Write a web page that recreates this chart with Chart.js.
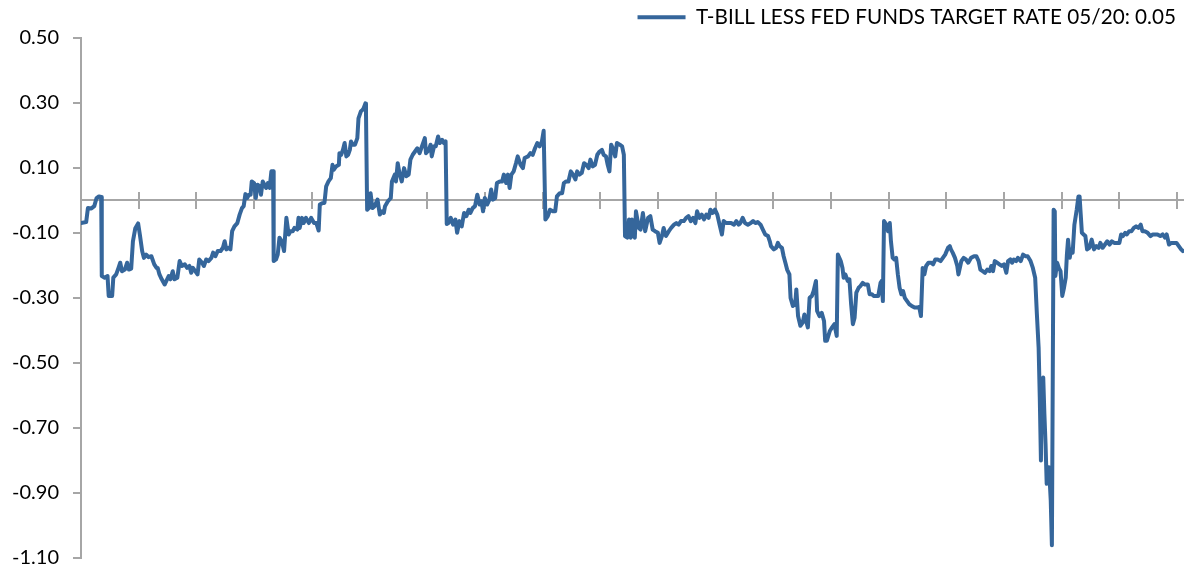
<!DOCTYPE html>
<html>
<head>
<meta charset="utf-8">
<script src="https://cdn.jsdelivr.net/npm/chart.js@4"></script>
<style>
  html, body { margin: 0; padding: 0; background: #ffffff; }
  #wrap { width: 1184px; height: 572px; position: relative; }
</style>
</head>
<body>
<div id="wrap"><canvas id="c"></canvas></div>
<script>
const seriesLabel = 'T-BILL LESS FED FUNDS TARGET RATE 05/20: 0.05';

const dates = [
2001.00,2001.09,2001.12,2001.18,2001.23,2001.27,2001.31,2001.35,2001.36,2001.41,2001.46,2001.48,2001.54,2001.56,2001.61,2001.65,2001.68,2001.71,2001.76,2001.80,2001.83,2001.87,2001.90,2001.94,2001.99,
2002.02,2002.06,2002.09,2002.13,2002.17,2002.22,2002.27,2002.31,2002.33,2002.36,2002.40,2002.45,2002.48,2002.52,2002.55,2002.59,2002.62,2002.67,2002.71,2002.75,2002.80,2002.84,2002.88,2002.91,2002.94,2002.98,
2003.02,2003.05,2003.10,2003.13,2003.17,2003.21,2003.26,2003.29,2003.33,2003.37,2003.42,2003.46,2003.49,2003.52,2003.56,2003.59,2003.62,2003.66,2003.71,2003.75,2003.79,2003.82,2003.85,2003.88,2003.91,2003.94,2003.96,
2004.00,2004.03,2004.06,2004.10,2004.12,2004.15,2004.18,2004.21,2004.24,2004.27,2004.30,2004.33,2004.34,2004.38,2004.41,2004.44,2004.48,2004.52,2004.56,2004.60,2004.63,2004.67,2004.70,2004.75,2004.77,2004.79,2004.83,2004.86,2004.90,2004.95,2004.99,
2005.04,2005.08,2005.12,2005.14,2005.19,2005.22,2005.25,2005.29,2005.33,2005.36,2005.38,2005.42,2005.47,2005.48,2005.51,2005.54,2005.57,2005.60,2005.63,2005.66,2005.68,2005.71,2005.75,2005.79,2005.81,2005.85,2005.88,2005.90,2005.93,2005.94,2005.96,2005.99,
2006.02,2006.05,2006.09,2006.14,2006.18,2006.22,2006.25,2006.27,2006.32,2006.37,2006.39,2006.44,2006.46,2006.49,2006.52,2006.56,2006.60,2006.64,2006.68,2006.71,2006.75,2006.79,2006.83,2006.87,2006.91,2006.96,2006.98,
2007.03,2007.06,2007.08,2007.12,2007.15,2007.19,2007.22,2007.26,2007.29,2007.32,2007.34,2007.37,2007.41,2007.45,2007.49,2007.52,2007.56,2007.60,2007.64,2007.68,2007.72,2007.75,2007.79,2007.83,2007.87,2007.91,2007.94,2007.97,
2008.00,2008.04,2008.08,2008.11,2008.14,2008.18,2008.21,2008.26,2008.30,2008.33,2008.37,2008.40,2008.43,2008.46,2008.50,2008.54,2008.57,2008.62,2008.66,2008.69,2008.75,2008.79,2008.83,2008.87,2008.91,2008.95,2008.99,
2009.02,2009.05,2009.09,2009.13,2009.18,2009.22,2009.25,2009.30,2009.34,2009.37,2009.41,2009.45,2009.49,2009.53,2009.57,2009.60,2009.64,2009.68,2009.72,2009.76,2009.80,2009.83,2009.87,2009.91,2009.95,2009.99,
2010.03,2010.06,2010.10,2010.13,2010.16,2010.19,2010.22,2010.26,2010.29,2010.34,2010.38,2010.41,2010.43,2010.47,2010.50,2010.53,2010.55,2010.60,2010.62,2010.67,2010.70,2010.74,2010.78,2010.83,2010.87,2010.91,2010.95,
2011.00,2011.03,2011.07,2011.10,2011.14,2011.19,2011.23,2011.28,2011.32,2011.36,2011.40,2011.45,2011.49,2011.53,2011.57,2011.61,2011.65,2011.68,2011.72,2011.76,2011.80,2011.84,2011.88,2011.91,2011.95,2011.99,
2012.03,2012.07,2012.11,2012.14,2012.18,2012.23,2012.27,2012.32,2012.36,2012.40,2012.43,2012.47,2012.51,2012.56,2012.61,2012.65,2012.69,2012.73,2012.78,2012.82,2012.86,2012.91,2012.94,2012.96,
2013.01,2013.05,2013.08,2013.11,2013.15,2013.18,2013.21,2013.24,2013.28,2013.30,2013.34,2013.38,2013.40,2013.43,2013.47,2013.51,2013.54,2013.57,2013.60,2013.63,2013.67,2013.70,2013.74,2013.76,2013.80,2013.84,2013.88,2013.90,2013.93,2013.98,
2014.02,2014.06,2014.10,2014.12,2014.17,2014.20,2014.22,2014.25,2014.29,2014.32,2014.35,2014.38,2014.41,2014.44,2014.48,2014.51,2014.55,2014.59,2014.64,2014.67,2014.71,2014.74,2014.78,2014.82,2014.86,2014.88,2014.90,2014.92,2014.96,2014.99,
2015.02,2015.04,2015.07,2015.10,2015.13,2015.16,2015.19,2015.22,2015.25,2015.28,2015.32,2015.36,2015.40,2015.45,2015.49,2015.53,2015.56,2015.59,2015.62,2015.65,2015.69,2015.74,2015.77,2015.81,2015.85,2015.90,2015.94,2015.98,
2016.03,2016.06,2016.08,2016.11,2016.15,2016.19,2016.21,2016.26,2016.30,2016.34,2016.38,2016.43,2016.48,2016.52,2016.56,2016.59,2016.63,2016.67,2016.71,2016.75,2016.78,2016.81,2016.84,2016.88,2016.92,2016.96,
2017.00,2017.04,2017.07,2017.11,2017.14,2017.17,2017.21,2017.24,2017.29,2017.33,2017.37,2017.41,2017.46,2017.50,2017.54,2017.57,2017.60,2017.62,2017.64,2017.65,2017.68,2017.70,2017.72,2017.74,2017.76,2017.78,2017.81,2017.83,2017.86,2017.88,2017.89,2017.92,2017.95,2017.98,
2018.01,2018.04,2018.07,2018.09,2018.11,2018.14,2018.16,2018.19,2018.22,2018.26,2018.29,2018.31,2018.35,2018.38,2018.41,2018.44,2018.48,2018.52,2018.56,2018.60,2018.64,2018.67,2018.71,2018.75,2018.79,2018.83,2018.87,2018.91,2018.96,
2019.00,2019.03,2019.06,2019.10,2019.13,2019.17,2019.21,2019.25,2019.29,2019.33,2019.37,2019.40,2019.44,2019.49,2019.54,2019.58,2019.62,2019.66,2019.71,2019.75,2019.79,2019.82,2019.86,2019.90,2019.95,2019.99,
2020.03,2020.07,2020.10
];

const spread = [
-0.070,-0.067,-0.024,-0.025,-0.018,0.007,0.012,0.010,-0.233,-0.238,-0.233,-0.294,-0.294,-0.238,-0.228,-0.208,-0.192,-0.218,-0.213,-0.192,-0.213,-0.210,-0.126,-0.087,-0.071,
-0.105,-0.156,-0.177,-0.167,-0.175,-0.172,-0.197,-0.208,-0.208,-0.228,-0.243,-0.259,-0.248,-0.233,-0.243,-0.218,-0.243,-0.238,-0.187,-0.202,-0.197,-0.208,-0.202,-0.223,-0.208,-0.218,
-0.228,-0.182,-0.192,-0.202,-0.182,-0.187,-0.177,-0.161,-0.172,-0.156,-0.156,-0.146,-0.126,-0.151,-0.146,-0.151,-0.095,-0.080,-0.070,-0.044,-0.024,-0.018,0.019,0.007,0.017,0.017,0.058,
0.053,0.007,0.048,0.043,0.017,0.058,0.048,0.038,0.053,0.038,0.089,0.089,-0.187,-0.182,-0.167,-0.115,-0.126,-0.156,-0.054,-0.105,-0.095,-0.095,-0.085,-0.090,-0.054,-0.085,-0.054,-0.070,-0.054,-0.070,-0.054,
-0.070,-0.070,-0.093,-0.013,-0.008,-0.008,0.043,0.058,0.068,0.109,0.094,0.104,0.109,0.145,0.140,0.155,0.176,0.135,0.140,0.155,0.181,0.171,0.171,0.191,0.252,0.273,0.278,0.283,0.298,0.273,-0.029,-0.024,
0.022,-0.024,-0.018,0.002,-0.044,-0.034,-0.039,-0.018,-0.003,0.007,0.058,0.079,0.058,0.114,0.084,0.058,0.099,0.074,0.079,0.125,0.140,0.150,0.160,0.145,0.166,0.191,0.145,
0.155,0.171,0.135,0.166,0.166,0.196,0.176,0.186,0.176,0.181,-0.073,-0.070,-0.054,-0.075,-0.059,-0.100,-0.064,-0.080,-0.039,-0.049,-0.029,-0.039,-0.024,-0.018,0.017,-0.013,-0.003,-0.034,
0.007,-0.013,0.002,0.033,0.002,0.007,0.053,0.058,0.058,0.079,0.053,0.079,0.038,0.079,0.089,0.114,0.135,0.109,0.099,0.130,0.135,0.145,0.140,0.160,0.176,0.166,0.181,
0.214,-0.059,-0.049,-0.029,-0.034,-0.034,0.012,0.022,0.022,0.053,0.058,0.058,0.089,0.079,0.064,0.089,0.079,0.084,0.114,0.109,0.099,0.125,0.104,0.109,0.140,0.150,
0.155,0.140,0.135,0.109,0.089,0.171,0.160,0.135,0.176,0.171,0.166,0.140,-0.110,-0.115,-0.059,-0.115,-0.059,-0.115,-0.034,-0.085,-0.090,-0.039,-0.095,-0.054,-0.049,-0.090,-0.095,
-0.100,-0.131,-0.110,-0.085,-0.110,-0.095,-0.085,-0.075,-0.070,-0.075,-0.064,-0.064,-0.054,-0.049,-0.064,-0.054,-0.070,-0.034,-0.054,-0.044,-0.059,-0.044,-0.054,-0.029,-0.039,-0.029,
-0.044,-0.075,-0.105,-0.064,-0.070,-0.070,-0.070,-0.075,-0.064,-0.075,-0.070,-0.054,-0.070,-0.075,-0.070,-0.064,-0.070,-0.067,-0.075,-0.090,-0.105,-0.110,-0.126,-0.141,
-0.151,-0.146,-0.131,-0.141,-0.146,-0.172,-0.192,-0.213,-0.228,-0.300,-0.325,-0.320,-0.274,-0.356,-0.386,-0.376,-0.351,-0.371,-0.391,-0.300,-0.294,-0.279,-0.248,-0.340,-0.356,-0.346,-0.371,-0.432,-0.432,-0.402,
-0.391,-0.381,-0.417,-0.167,-0.187,-0.208,-0.238,-0.228,-0.248,-0.243,-0.320,-0.381,-0.361,-0.284,-0.269,-0.264,-0.254,-0.259,-0.259,-0.289,-0.289,-0.294,-0.294,-0.294,-0.254,-0.248,-0.310,-0.064,-0.075,-0.095,
-0.070,-0.126,-0.177,-0.182,-0.177,-0.228,-0.269,-0.289,-0.279,-0.300,-0.310,-0.320,-0.325,-0.330,-0.330,-0.328,-0.356,-0.208,-0.228,-0.202,-0.192,-0.192,-0.197,-0.182,-0.182,-0.187,-0.177,-0.167,
-0.146,-0.141,-0.151,-0.161,-0.177,-0.202,-0.228,-0.187,-0.177,-0.182,-0.192,-0.177,-0.172,-0.172,-0.187,-0.213,-0.218,-0.223,-0.213,-0.218,-0.202,-0.218,-0.187,-0.192,-0.197,-0.202,
-0.197,-0.223,-0.187,-0.182,-0.192,-0.182,-0.187,-0.177,-0.187,-0.167,-0.172,-0.172,-0.187,-0.208,-0.238,-0.351,-0.453,-0.606,-0.800,-0.555,-0.545,-0.657,-0.749,-0.872,-0.821,-0.821,-0.923,-1.061,-0.029,-0.034,-0.233,-0.192,-0.208,-0.218,
-0.294,-0.269,-0.238,-0.167,-0.121,-0.177,-0.151,-0.161,-0.075,-0.029,0.012,0.012,-0.100,-0.105,-0.110,-0.151,-0.146,-0.121,-0.151,-0.141,-0.146,-0.131,-0.146,-0.136,-0.126,-0.136,-0.126,-0.131,-0.131,
-0.131,-0.105,-0.110,-0.100,-0.105,-0.095,-0.095,-0.085,-0.080,-0.085,-0.075,-0.095,-0.095,-0.100,-0.110,-0.105,-0.105,-0.105,-0.110,-0.105,-0.115,-0.105,-0.136,-0.131,-0.131,-0.131,
-0.141,-0.151,-0.156
];

const yTicks = [-1.10, -0.90, -0.70, -0.50, -0.30, -0.10, 0.10, 0.30, 0.50];
const xTickYears = [2001,2002,2003,2004,2005,2006,2007,2008,2009,2010,2011,2012,2013,2014,2015,2016,2017,2018,2019,2020];
const xMin = 2001, xMax = 2020.12;

const points = dates.map((d, i) => ({ x: d, y: spread[i] }));

const axisGray = '#a6a6a6';
const lineBlue = '#35669b';
const fontFamily = 'Lato, "Open Sans", "Noto Sans", sans-serif';

const xAxisBase = {
  type: 'linear',
  min: xMin,
  max: xMax,
  position: { y: 0 },
  afterBuildTicks: (scale) => { scale.ticks = xTickYears.map(v => ({ value: v })); },
  afterFit: (scale) => { scale.height = 0; },
  ticks: { display: false },
};

new Chart(document.getElementById('c'), {
  type: 'line',
  data: {
    datasets: [{
      label: seriesLabel,
      data: points,
      borderColor: lineBlue,
      backgroundColor: lineBlue,
      borderWidth: 4,
      borderCapStyle: 'round',
      borderJoinStyle: 'round',
      pointRadius: 0,
      pointHoverRadius: 0,
      tension: 0,
      xAxisID: 'x',
      yAxisID: 'y'
    }]
  },
  options: {
    responsive: true,
    maintainAspectRatio: false,
    animation: false,
    events: [],
    layout: { padding: { left: 0, right: 0, top: -1, bottom: 1 } },
    plugins: {
      tooltip: { enabled: false },
      legend: {
        display: true,
        position: 'top',
        align: 'end',
        labels: {
          usePointStyle: true,
          pointStyle: 'line',
          pointStyleWidth: 48,
          boxHeight: 21,
          color: '#000000',
          padding: 8,
          font: { family: fontFamily, size: 20.7 }
        }
      }
    },
    scales: {
      x: Object.assign({}, xAxisBase, {
        grid: { display: true, drawOnChartArea: false, drawTicks: true, tickLength: 8, color: axisGray, lineWidth: 2 },
        border: { display: true, color: axisGray, width: 2 }
      }),
      x2: Object.assign({}, xAxisBase, {
        grid: { display: true, drawOnChartArea: false, drawTicks: true, tickLength: -8, color: axisGray, lineWidth: 2 },
        border: { display: false }
      }),
      y: {
        type: 'linear',
        position: 'left',
        min: -1.1,
        max: 0.5,
        afterBuildTicks: (scale) => { scale.ticks = yTicks.map(v => ({ value: v })); },
        afterFit: (scale) => { scale.width = 81; scale.paddingBottom = 14; scale.paddingTop = 12; },
        grid: { display: true, drawOnChartArea: false, drawTicks: true, tickLength: 8, color: axisGray, lineWidth: 2 },
        border: { display: true, color: axisGray, width: 2 },
        ticks: {
          padding: 14,
          color: '#000000',
          font: { family: fontFamily, size: 20 },
          callback: (v) => Number(v).toFixed(2)
        }
      }
    }
  }
});
</script>
</body>
</html>
